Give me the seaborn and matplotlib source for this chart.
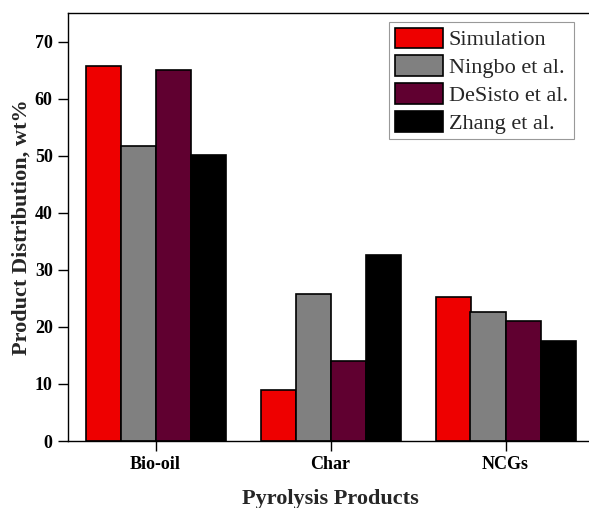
import matplotlib
matplotlib.use("Agg")
import matplotlib.pyplot as plt
import seaborn as sns
import pandas as pd
from matplotlib.patches import Patch

categories = ["Bio-oil", "Char", "NCGs"]
series = ["Simulation", "Ningbo et al.", "DeSisto et al.", "Zhang et al."]
simulation = [65.8, 8.9, 25.3]
ningbo = [51.7, 25.7, 22.6]
desisto = [65.0, 14.0, 21.0]
zhang = [50.1, 32.6, 17.5]
colors = ["#EE0000", "#808080", "#600030", "#000000"]

rows = []
for name, vals in zip(series, [simulation, ningbo, desisto, zhang]):
    for c, v in zip(categories, vals):
        rows.append({"Product": c, "Source": name, "Value": v})
df = pd.DataFrame(rows)

sns.set_style("ticks")
plt.rcParams["font.family"] = ["Liberation Serif", "DejaVu Serif"]

W, H = 589, 508
fig = plt.figure(figsize=(W / 100, H / 100), dpi=100)
ax = fig.add_axes([68 / W, (H - 441) / H, (593 - 68) / W, (441 - 13) / H])

sns.barplot(data=df, x="Product", y="Value", hue="Source", hue_order=series,
            order=categories, palette=colors, width=0.8, ax=ax,
            edgecolor="black", linewidth=1.2, saturation=1, legend=False)

ax.set_xlim(-0.5, 2.5)
ax.set_ylim(0, 75)
ax.set_yticks([0, 10, 20, 30, 40, 50, 60, 70])
for s in ["top", "bottom", "left", "right"]:
    ax.spines[s].set_visible(True)
    ax.spines[s].set_linewidth(1.0)
    ax.spines[s].set_color("black")
ax.tick_params(axis="both", direction="out", length=7, width=1.0, colors="black", pad=4)
for lab in ax.get_xticklabels() + ax.get_yticklabels():
    lab.set_fontweight("bold")
    lab.set_fontsize(13)
ax.set_xlabel("Pyrolysis Products", fontsize=16, fontweight="bold", labelpad=11)
ax.set_ylabel("Product Distribution, wt%", fontsize=16, fontweight="bold", labelpad=2)

handles = [Patch(facecolor=c, edgecolor="black", linewidth=1.2) for c in colors]
leg = fig.legend(handles, series, loc="upper left",
                 bbox_to_anchor=(389 / W, 1 - 22 / H), fontsize=16,
                 frameon=True, fancybox=False, edgecolor="#808080",
                 handlelength=2.2, handleheight=1.05, handletextpad=0.25,
                 labelspacing=0.22, borderpad=0.25, borderaxespad=0)
leg.get_frame().set_linewidth(0.8)

fig.savefig("out.png", dpi=100)
